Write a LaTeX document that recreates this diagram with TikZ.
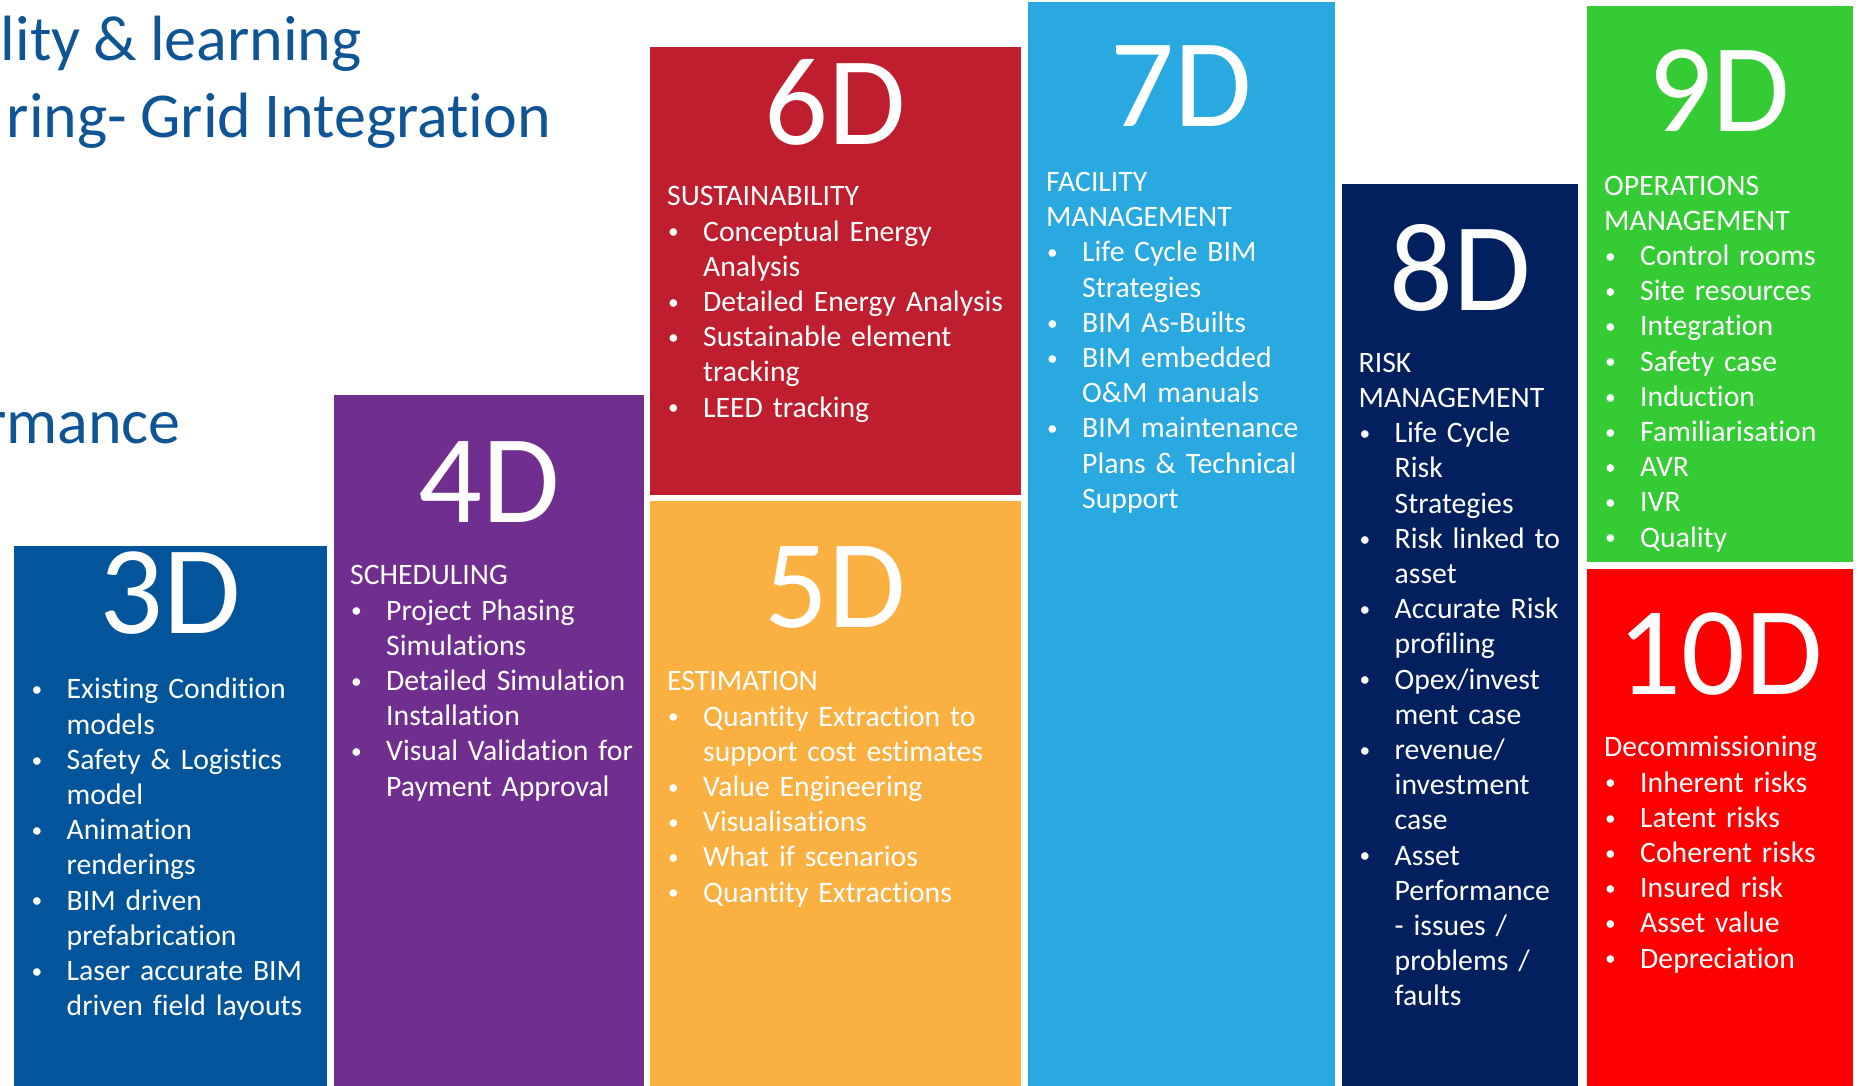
\documentclass[tikz,border=0pt]{standalone}
\usepackage{fontspec}
\setmainfont{Carlito}[Ligatures=NoCommon, WordSpace={0.9}]
\definecolor{titleblue}{HTML}{0F5596}
\definecolor{c3}{HTML}{02559A}
\definecolor{c4}{HTML}{702E8E}
\definecolor{c6}{HTML}{BE1E2D}
\definecolor{c5}{HTML}{FBB042}
\definecolor{c7}{HTML}{29A9E0}
\definecolor{c8}{HTML}{03205E}
\definecolor{c9}{HTML}{35CB35}
\definecolor{c10}{HTML}{FF0000}
\newcommand\smallbullet{\raisebox{2.2pt}{\scalebox{0.72}{•}}}
\newcommand\bulletline[1]{\makebox[36pt][l]{\hspace*{1pt}\smallbullet}#1}
\newcommand\contline[1]{\hspace*{36pt}#1}
\tikzset{
  numtxt/.style={anchor=base, text=white, inner sep=0pt, font=\fontsize{126}{126}\selectfont},
  bodytxt/.style={anchor=north west, text=white, inner sep=0pt, text width=420pt, align=left, font=\fontsize{29.7}{35.2}\selectfont},
  titletxt/.style={anchor=base east, text=titleblue, inner sep=0pt, font=\fontsize{64}{70}\selectfont}
}
\begin{document}
\begin{tikzpicture}[x=1pt,y=-1pt]
\path[use as bounding box] (0,0) rectangle (1862,1086);
\clip (0,0) rectangle (1862,1086);
% panels
\fill[c3]  (14,546)  rectangle (327,1086);
\fill[c4]  (334,395) rectangle (644,1086);
\fill[c6]  (650,47)  rectangle (1021,495);
\fill[c5]  (650,501) rectangle (1021,1086);
\fill[c7]  (1028,2)  rectangle (1335,1086);
\fill[c8]  (1342,184) rectangle (1578,1086);
\fill[c9]  (1587,6)  rectangle (1853,562);
\fill[c10] (1587,569) rectangle (1853,1086);
% titles
\node[titletxt] (t1) at (362,61) {lity \& learning};
\node[titletxt] (t2) at (551,138) {ring- Grid Integration};
\node[titletxt] (t3) at (181,443) {rmance};
% numerals
\node[numtxt] (n3) at (170.5,633) {3D};
\node[numtxt] (n4) at (489,522) {4D};
\node[numtxt] (n6) at (835.5,145) {6D};
\node[numtxt] (n5) at (835.5,627) {5D};
\node[numtxt] (n7) at (1181.5,127) {7D};
\node[numtxt] (n8) at (1460,310) {8D};
\node[numtxt] (n9) at (1719,132) {9D};
\node[numtxt] (n10) at (1720,694) {10D};
% bodies
\node[bodytxt] (b3) at (30.5,674) {\strut\bulletline{Existing Condition}\\ \contline{models}\\ \bulletline{Safety \& Logistics}\\ \contline{model}\\ \bulletline{Animation}\\ \contline{renderings}\\ \bulletline{BIM driven}\\ \contline{prefabrication}\\ \bulletline{Laser accurate BIM}\\ \contline{driven field layouts}};
\node[bodytxt] (b4) at (350,560) {\strut SCHEDULING\\ \bulletline{Project Phasing}\\ \contline{Simulations}\\ \bulletline{Detailed Simulation}\\ \contline{Installation}\\ \bulletline{Visual Validation for}\\ \contline{Payment Approval}};
\node[bodytxt] (b6) at (667,181) {\strut SUSTAINABILITY\\ \bulletline{Conceptual Energy}\\ \contline{Analysis}\\ \bulletline{Detailed Energy Analysis}\\ \bulletline{Sustainable element}\\ \contline{tracking}\\ \bulletline{LEED tracking}};
\node[bodytxt] (b5) at (667,666) {\strut ESTIMATION\\ \bulletline{Quantity Extraction to}\\ \contline{support cost estimates}\\ \bulletline{Value Engineering}\\ \bulletline{Visualisations}\\ \bulletline{What if scenarios}\\ \bulletline{Quantity Extractions}};
\node[bodytxt] (b7) at (1046,166.6) {\strut FACILITY\\ MANAGEMENT\\ \bulletline{Life Cycle BIM}\\ \contline{Strategies}\\ \bulletline{BIM As-Builts}\\ \bulletline{BIM embedded}\\ \contline{O\&M manuals}\\ \bulletline{BIM maintenance}\\ \contline{Plans \& Technical}\\ \contline{Support}};
\node[bodytxt] (b8) at (1358.5,347.5) {\strut RISK\\ MANAGEMENT\\ \bulletline{Life Cycle}\\ \contline{Risk}\\ \contline{Strategies}\\ \bulletline{Risk linked to}\\ \contline{asset}\\ \bulletline{Accurate Risk}\\ \contline{profiling}\\ \bulletline{Opex/invest}\\ \contline{ment case}\\ \bulletline{revenue/}\\ \contline{investment}\\ \contline{case}\\ \bulletline{Asset}\\ \contline{Performance}\\ \contline{- issues /}\\ \contline{problems /}\\ \contline{faults}};
\node[bodytxt] (b9) at (1604,170.3) {\strut OPERATIONS\\ MANAGEMENT\\ \bulletline{Control rooms}\\ \bulletline{Site resources}\\ \bulletline{Integration}\\ \bulletline{Safety case}\\ \bulletline{Induction}\\ \bulletline{Familiarisation}\\ \bulletline{AVR}\\ \bulletline{IVR}\\ \bulletline{Quality}};
\node[bodytxt] (b10) at (1604,732) {\strut Decommissioning\\ \bulletline{Inherent risks}\\ \bulletline{Latent risks}\\ \bulletline{Coherent risks}\\ \bulletline{Insured risk}\\ \bulletline{Asset value}\\ \bulletline{Depreciation}};
\end{tikzpicture}
\end{document}
